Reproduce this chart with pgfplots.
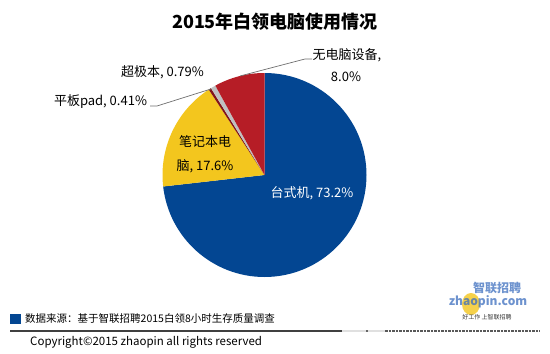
\documentclass[border=0pt]{standalone}
\usepackage{pgfplots}
\pgfplotsset{compat=1.18}
\usepackage{fontspec}
\setmainfont{Noto Sans CJK SC}
\definecolor{pieblue}{RGB}{3,70,146}
\definecolor{pieyellow}{RGB}{243,198,30}
\definecolor{piered}{RGB}{182,29,38}
\definecolor{piepad}{RGB}{130,20,25}
\definecolor{piegrey}{RGB}{192,192,192}
\definecolor{leader}{RGB}{110,110,110}
\definecolor{logoblue}{RGB}{60,110,190}
\begin{document}
\begin{tikzpicture}
\useasboundingbox (0,0) rectangle (550pt,354pt);
\begin{axis}[at={(0,0)}, anchor=south west, width=550pt, height=354pt, scale only axis,
  xmin=0, xmax=550, ymin=0, ymax=354, hide axis, clip=false]
% pie data: percentages, clockwise from 12 o'clock
\xdef\startang{90}
\foreach \p/\c in {73.2/pieblue,17.6/pieyellow,0.41/piepad,0.79/piegrey,8.0/piered}{
  \pgfmathsetmacro\endang{\startang-3.6*\p}
  \edef\temp{\noexpand\fill[\c] (axis cs:264.5,179) -- ++(\startang:102pt) arc[start angle=\startang, end angle=\endang, radius=102pt] -- cycle;}
  \temp
  \xdef\startang{\endang}
}
% title
\node[font=\fontsize{18}{20}\selectfont\bfseries] at (axis cs:275,332) {2015年白领电脑使用情况};
% labels
\node[font=\fontsize{13}{15}\selectfont] at (axis cs:347,299) {无电脑设备,};
\node[font=\fontsize{13}{15}\selectfont] at (axis cs:346,277) {8.0\%};
\node[font=\fontsize{13}{15}\selectfont] at (axis cs:162.5,282) {超极本, 0.79\%};
\node[font=\fontsize{13}{15}\selectfont] at (axis cs:100.5,252) {平板pad, 0.41\%};
\node[font=\fontsize{13}{15}\selectfont] at (axis cs:205,212) {笔记本电};
\node[font=\fontsize{13}{15}\selectfont] at (axis cs:205,188) {脑, 17.6\%};
\node[font=\fontsize{13}{15}\selectfont, text=white] at (axis cs:312,161) {台式机, 73.2\%};
% leader lines
\draw[leader, line width=0.7pt] (axis cs:150,248) -- (axis cs:157,248) -- (axis cs:211,265);
\draw[leader, line width=0.7pt] (axis cs:312,295) -- (axis cs:305,295) -- (axis cs:240,278);
% footer
\fill[pieblue] (axis cs:10,40) rectangle (axis cs:21,30);
\node[anchor=west, font=\fontsize{10.5}{12}\selectfont, inner sep=0pt] at (axis cs:25,35) {数据来源：基于智联招聘2015白领8小时生存质量调查};
\draw[black!75, line width=1.3pt] (axis cs:10,23) -- (axis cs:342,23);
\draw[black!12, line width=1.3pt] (axis cs:342,23) -- (axis cs:385,23);
\draw[black!60, line width=1.3pt] (axis cs:366,23) -- (axis cs:368,23);
\draw[black!65, line width=1.3pt, dash pattern=on 2.5pt off 1pt] (axis cs:385,23) -- (axis cs:540,23);
\node[anchor=west, font=\fontsize{11.5}{13}\selectfont, inner sep=0pt] at (axis cs:30,12) {Copyright©2015 zhaopin all rights reserved};
% logo
\fill[pieyellow, opacity=0.8] (axis cs:471,50) ellipse [x radius=9pt, y radius=11pt];
\node[font=\fontsize{12}{13}\selectfont\bfseries, text=logoblue, opacity=0.75] at (axis cs:497,66) {智联招聘};
\node[font=\fontsize{12}{13}\selectfont\bfseries\itshape, text=logoblue, opacity=0.75] at (axis cs:488,52) {zhaopin.com};
\node[font=\fontsize{6}{7}\selectfont, text=black!80] at (axis cs:487,37) {好工作 上智联招聘};
\end{axis}
\end{tikzpicture}
\end{document}
